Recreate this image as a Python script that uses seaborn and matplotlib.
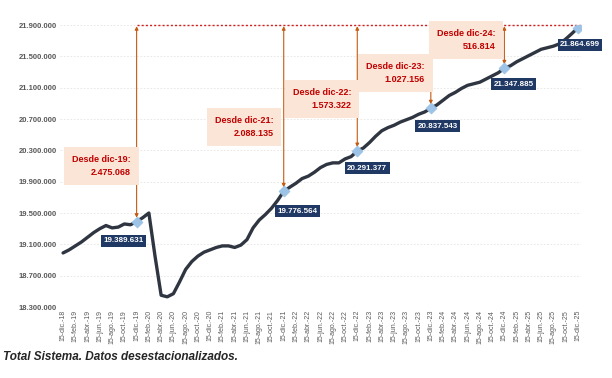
import pandas as pd
import numpy as np
import matplotlib
matplotlib.use("Agg")
import matplotlib.pyplot as plt
import seaborn as sns

# ---------------------------------
# DATA (afiliados, media mensual, desestacionalizado)
# ---------------------------------
months = ["ene", "feb", "mar", "abr", "may", "jun",
          "jul", "ago", "sep", "oct", "nov", "dic"]

values = [
    18990000,                                                   # dic-18
    19030000, 19080000, 19130000, 19190000, 19250000, 19300000,
    19340000, 19310000, 19320000, 19360000, 19350000, 19389631,  # 2019
    19440000, 19500000, 18950000, 18450000, 18430000, 18470000,
    18620000, 18780000, 18880000, 18950000, 19000000, 19030000,  # 2020
    19060000, 19080000, 19080000, 19060000, 19090000, 19160000,
    19310000, 19410000, 19480000, 19560000, 19660000, 19776564,  # 2021
    19830000, 19880000, 19940000, 19970000, 20020000, 20080000,
    20120000, 20140000, 20140000, 20190000, 20220000, 20291377,  # 2022
    20330000, 20400000, 20480000, 20550000, 20590000, 20620000,
    20660000, 20690000, 20720000, 20760000, 20790000, 20837543,  # 2023
    20880000, 20940000, 21000000, 21040000, 21090000, 21130000,
    21150000, 21170000, 21210000, 21250000, 21290000, 21347885,  # 2024
    21380000, 21430000, 21470000, 21510000, 21550000, 21590000,
    21610000, 21630000, 21660000, 21720000, 21790000, 21864699,  # 2025
]

# diciembres marcados
dec_labels = ["dic-19", "dic-21", "dic-22", "dic-23", "dic-24", "dic-25"]
dec_idx = [12, 36, 48, 60, 72, 84]
gains = ["2.475.068", "2.088.135", "1.573.322", "1.027.156", "516.814"]

# build month labels "15-dic.-18" ...
labels = []
for i in range(len(values)):
    m = (11 + i) % 12
    yy = 18 + (11 + i) // 12
    labels.append(f"15-{months[m]}.-{yy:02d}")

df = pd.DataFrame({"t": range(len(values)), "afiliados": values, "label": labels})
marks = df.iloc[dec_idx]

# ---------------------------------
# PLOT
# ---------------------------------
sns.set_style("white")
plt.rcParams["font.family"] = ["Liberation Sans", "DejaVu Sans"]

fig = plt.figure(figsize=(6.12, 3.78), dpi=100)
ax = fig.add_axes([60 / 612, 1 - 307 / 378, 521 / 612, 282 / 378])

sns.lineplot(data=df, x="t", y="afiliados", ax=ax, color="#2f3641", lw=2.4, zorder=3)
sns.scatterplot(data=marks, x="t", y="afiliados", ax=ax, marker="D", s=32,
                color="#9dc3e6", edgecolor="#9dc3e6", zorder=5)

ax.set_ylim(18300000, 21900000)
ax.set_xlim(-0.5, len(values) - 0.5)
yt = np.arange(18300000, 21900001, 400000)
ax.set_yticks(yt)
ax.set_yticklabels([f"{v:,.0f}".replace(",", ".") for v in yt],
                   fontsize=5.5, color="#595959", fontweight="bold")
ax.set_xticks(df["t"][::2])
ax.set_xticklabels(df["label"][::2], rotation=90, fontsize=5, color="#595959")
ax.tick_params(axis="both", length=0, pad=2)
ax.grid(axis="y", color="#e4e4e4", lw=0.6, ls=(0, (2, 2)))
ax.set_xlabel("")
ax.set_ylabel("")
for s in ax.spines.values():
    s.set_visible(False)

# nivel de referencia (linea roja punteada)
top = 21900000
ax.plot([dec_idx[0], dec_idx[-1] + 0.5], [top, top], color="#d02020", lw=1.0,
        ls=(0, (1.5, 1.5)), zorder=2, clip_on=False)

# flechas desde cada diciembre hasta el nivel actual
for i in dec_idx[:-1]:
    ax.annotate("", xy=(i, top - 15000), xytext=(i, values[i] + 50000),
                arrowprops=dict(arrowstyle="<|-|>", color="#c55a11", lw=0.8,
                                mutation_scale=5, shrinkA=0, shrinkB=0), zorder=4)

# etiquetas de valor (cajas azules)
val_off = [(-13, -243000), (14, -255000), (10, -217000), (7, -230000), (9, -204000), (2, -217000)]
for (i, (dx, dy)) in zip(dec_idx, val_off):
    ax.text(i + dx / 6.13, values[i] + dy, f"{values[i]:,.0f}".replace(",", "."),
            ha="center", va="center", fontsize=5.8, color="white", fontweight="bold",
            bbox=dict(boxstyle="square,pad=0.3", fc="#1f3864", ec="none"), zorder=6)

# cajas "Desde dic-xx"
desde_pos = [(11.0, 20100000), (34.3, 20600000), (47.0, 20955000),
             (59.0, 21285000), (70.5, 21710000)]
for lab, g, (x, y) in zip(dec_labels[:-1], gains, desde_pos):
    ax.text(x, y, f"Desde {lab}:\n{g}", ha="right", va="center", fontsize=6.5,
            color="#c00000", fontweight="bold", linespacing=1.5,
            bbox=dict(boxstyle="square,pad=0.9", fc="#fbe5d6", ec="none"), zorder=4)

fig.text(3 / 612, 1 - 357 / 378, "Total Sistema. Datos desestacionalizados.",
         fontsize=8.5, fontweight="bold", fontstyle="italic", va="center", ha="left")

fig.savefig("out.png", dpi=100)
